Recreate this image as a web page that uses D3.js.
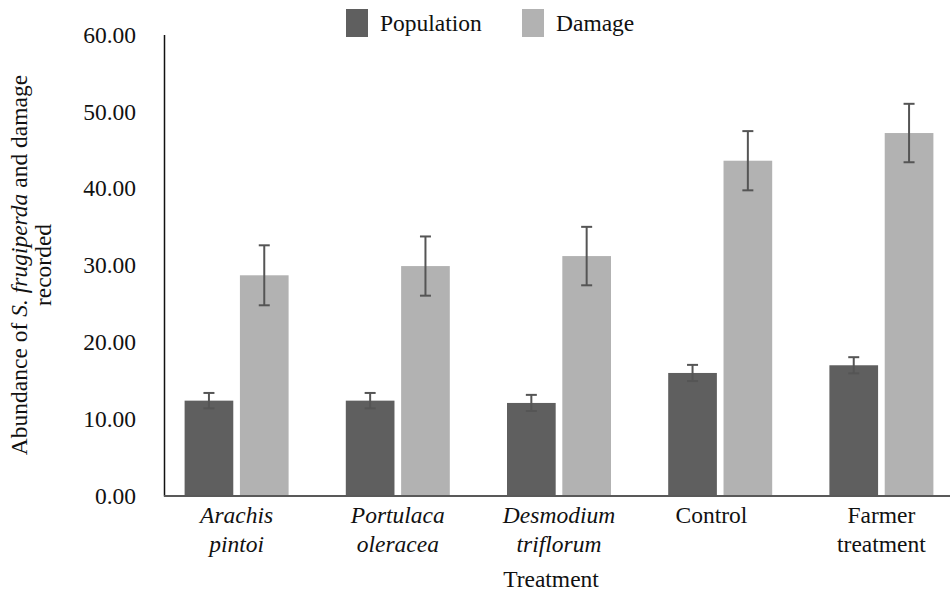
<!DOCTYPE html>
<html>
<head>
<meta charset="utf-8">
<script src="https://cdn.jsdelivr.net/npm/d3@7"></script>
<style>
  html, body { margin: 0; padding: 0; background: #fff; }
  svg { display: block; }
  text { font-family: "Liberation Serif", "Times New Roman", serif; fill: #111; }
</style>
</head>
<body>
<svg id="chart" width="950" height="593"></svg>
<script>
// ---- data ----
const categories = [
  ["Arachis", "pintoi"],
  ["Portulaca", "oleracea"],
  ["Desmodium", "triflorum"],
  ["Control\u00a0\u00a0\u00a0"],
  ["Farmer", "treatment"]
];
const italicCategory = [true, true, true, false, false];
const seriesNames = ["Population", "Damage"];
const population = [12.4, 12.4, 12.1, 16.0, 17.0];
const populationErr = [1.0, 1.0, 1.05, 1.05, 1.05];
const damage = [28.7, 29.9, 31.2, 43.6, 47.2];
const damageErr = [3.9, 3.85, 3.8, 3.85, 3.8];
const yTicks = [0, 10, 20, 30, 40, 50, 60];

const colors = { Population: "#5f5f5f", Damage: "#b2b2b2" };
const errColor = "#555555";
const FS = 23.5;

const svg = d3.select("#chart");
const catKeys = categories.map(c => c.join(" "));

const x = d3.scaleBand().domain(catKeys).range([156, 962]).padding(0);
const groupW = 104;
const xs = d3.scaleBand().domain(seriesNames).range([-groupW / 2, groupW / 2]).paddingInner(0.12).paddingOuter(0);
const y = d3.scaleLinear().domain([0, 60]).range([496, 34.6]);

const rows = catKeys.map((k, i) => ({
  key: k,
  vals: [
    { s: "Population", v: population[i], e: populationErr[i] },
    { s: "Damage", v: damage[i], e: damageErr[i] }
  ]
}));

// bars
const g = svg.append("g");
const groups = g.selectAll("g.grp").data(rows).join("g")
  .attr("class", "grp")
  .attr("transform", d => `translate(${x(d.key) + x.bandwidth() / 2},0)`);

groups.selectAll("rect").data(d => d.vals).join("rect")
  .attr("x", d => xs(d.s))
  .attr("width", xs.bandwidth())
  .attr("y", d => y(d.v))
  .attr("height", d => y(0) - y(d.v))
  .attr("fill", d => colors[d.s]);

// error bars
const cap = 5.5;
const eb = groups.selectAll("g.err").data(d => d.vals).join("g").attr("class", "err")
  .attr("transform", d => `translate(${xs(d.s) + xs.bandwidth() / 2},0)`)
  .attr("stroke", errColor).attr("stroke-width", 2);
eb.append("line").attr("x1", 0).attr("x2", 0).attr("y1", d => y(d.v + d.e)).attr("y2", d => y(d.v - d.e));
eb.append("line").attr("x1", -cap).attr("x2", cap).attr("y1", d => y(d.v + d.e)).attr("y2", d => y(d.v + d.e));
eb.append("line").attr("x1", -cap).attr("x2", cap).attr("y1", d => y(d.v - d.e)).attr("y2", d => y(d.v - d.e));

// y axis
const yAxis = d3.axisLeft(y).tickValues(yTicks).tickFormat(d3.format(".2f")).tickSize(0).tickPadding(28);
const yg = svg.append("g").attr("transform", "translate(164,0)").call(yAxis);
yg.select(".domain").attr("stroke", "#111").attr("stroke-width", 1.5);
yg.selectAll("text").attr("font-size", FS).attr("fill", "#111");

// x axis line
const xg = svg.append("g").attr("transform", `translate(0,${y(0)})`);
xg.append("line").attr("x1", 164).attr("x2", 950).attr("y1", 0).attr("y2", 0)
  .attr("stroke", "#595959").attr("stroke-width", 2);

// x labels
const xl = svg.append("g");
rows.forEach((r, i) => {
  const cx = x(r.key) + x.bandwidth() / 2;
  const t = xl.append("text")
    .attr("text-anchor", "middle")
    .attr("font-size", FS)
    .attr("font-style", italicCategory[i] ? "italic" : "normal")
    .attr("x", cx)
    .attr("y", 523);
  categories[i].forEach((line, j) => {
    t.append("tspan").attr("x", cx).attr("dy", j === 0 ? 0 : 29).text(line);
  });
});

// x title
svg.append("text").attr("x", 551).attr("y", 587).attr("text-anchor", "middle")
  .attr("font-size", FS).text("Treatment");

// y title
const yt = svg.append("text").attr("transform", "translate(0,265) rotate(-90)")
  .attr("text-anchor", "middle").attr("font-size", FS);
const l1 = yt.append("tspan").attr("x", 0).attr("y", 27);
l1.append("tspan").text("Abundance of ");
l1.append("tspan").attr("font-style", "italic").text("S. frugiperda");
l1.append("tspan").text(" and damage");
yt.append("tspan").attr("x", 0).attr("y", 51).text("recorded");

// legend
const legendX = [346, 522];
const lg = svg.append("g");
seriesNames.forEach((s, i) => {
  lg.append("rect").attr("x", legendX[i]).attr("y", 9).attr("width", 22).attr("height", 28).attr("fill", colors[s]);
  lg.append("text").attr("x", legendX[i] + 34).attr("y", 31).attr("font-size", FS).text(s);
});
</script>
</body>
</html>
